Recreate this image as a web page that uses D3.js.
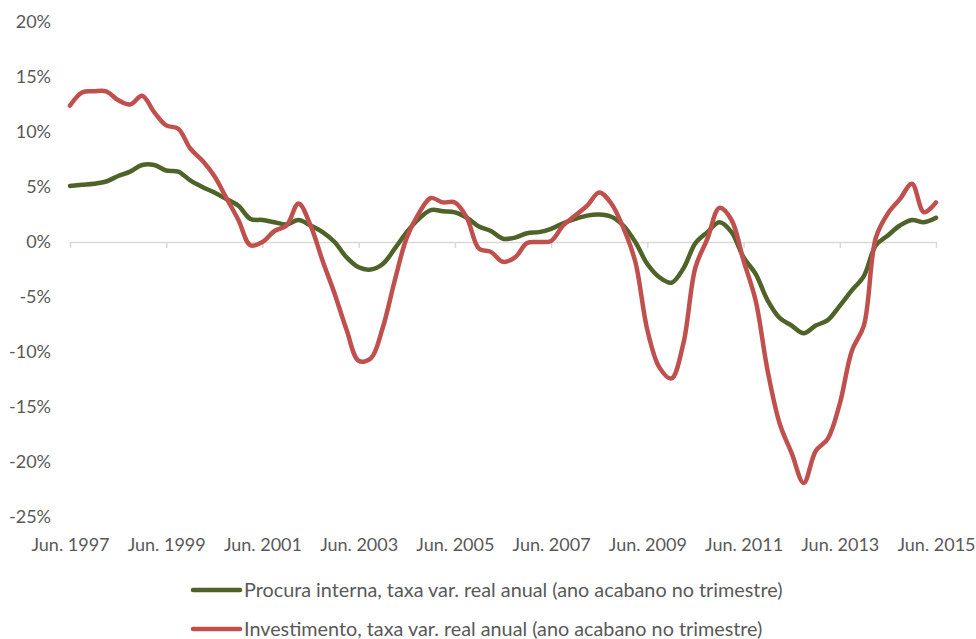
<!DOCTYPE html>
<html>
<head>
<meta charset="utf-8">
<script src="https://cdn.jsdelivr.net/npm/d3@7"></script>
<style>
  body { margin: 0; background: #fff; }
  svg text { font-family: Lato, "Open Sans", sans-serif; fill: #595959; }
</style>
</head>
<body>
<div id="chart"></div>
<script>
// Quarterly series, Jun. 1997 .. Jun. 2015 (73 quarters)
const quarterMonths = ['Jun.', 'Set.', 'Dez.', 'Mar.'];
const quarters = [];
for (let i = 0; i < 73; i++) {
    const m = quarterMonths[i % 4];
    const y = 1997 + Math.floor((i + 2) / 4);
    quarters.push(`${m} ${y}`);
}

const xTickLabels = ['Jun. 1997', 'Jun. 1999', 'Jun. 2001', 'Jun. 2003', 'Jun. 2005',
    'Jun. 2007', 'Jun. 2009', 'Jun. 2011', 'Jun. 2013', 'Jun. 2015'];
const yTicks = [-25, -20, -15, -10, -5, 0, 5, 10, 15, 20];

const seriesNames = [
    'Procura interna, taxa var. real anual (ano acabano no trimestre)',
    'Investimento, taxa var. real anual (ano acabano no trimestre)'
];

// Procura interna
const procura = [
    5.1, 5.2, 5.3, 5.5, 6.0, 6.4, 7.0, 7.0, 6.5, 6.4,
    5.6, 5.0, 4.5, 3.9, 3.3, 2.1, 2.0, 1.8, 1.6, 2.0,
    1.5, 0.9, 0.0, -1.4, -2.3, -2.5, -2.0, -0.6, 0.9, 2.1,
    2.9, 2.8, 2.7, 2.2, 1.4, 1.0, 0.3, 0.4, 0.8, 0.9,
    1.2, 1.7, 2.1, 2.4, 2.5, 2.3, 1.5, 0.0, -2.0, -3.2,
    -3.7, -2.4, -0.1, 0.9, 1.8, 0.9, -1.4, -2.9, -5.3, -6.9,
    -7.6, -8.3, -7.6, -7.1, -5.8, -4.4, -3.1, -0.3, 0.6, 1.5,
    2.0, 1.8, 2.2
];

// Investimento
const investimento = [
    12.4, 13.6, 13.7, 13.7, 12.9, 12.5, 13.3, 11.8, 10.6, 10.3,
    8.5, 7.4, 6.0, 4.0, 2.0, -0.3, 0.0, 1.0, 1.5, 3.5,
    1.5, -1.7, -4.7, -8.0, -10.8, -10.6, -7.8, -3.5, 0.4, 2.6,
    4.0, 3.6, 3.6, 2.2, -0.6, -0.9, -1.8, -1.4, -0.1, 0.0,
    0.1, 1.5, 2.4, 3.3, 4.5, 3.5, 1.3, -1.8, -8.0, -11.4,
    -12.4, -9.2, -2.3, 0.3, 3.1, 2.0, -1.7, -5.3, -11.7, -16.5,
    -19.2, -21.9, -19.0, -17.9, -14.7, -9.9, -7.6, 0.4, 2.6, 3.9,
    5.3, 2.7, 3.6
];

const colors = ['#4F6228', '#C0504D'];

function drawChart() {
    const width = 976;
    const height = 639;
    const plot = { left: 70, right: 936, top: 22, bottom: 517 };

    const svg = d3.select('#chart')
        .append('svg')
        .attr('width', width)
        .attr('height', height);

    const x = d3.scalePoint()
        .domain(quarters)
        .range([plot.left, plot.right]);

    const y = d3.scaleLinear()
        .domain([-25, 20])
        .range([plot.bottom, plot.top]);

    // Y axis labels (no line, no ticks)
    const yAxis = svg.append('g')
        .attr('transform', `translate(${plot.left - 19}, 0)`)
        .call(d3.axisLeft(y)
            .tickValues(yTicks)
            .tickSize(0)
            .tickPadding(0)
            .tickFormat(d => d + '%'));
    yAxis.select('.domain').remove();
    yAxis.selectAll('text')
        .style('font-size', '18px')
        .style('font-family', 'Lato, sans-serif')
        .attr('fill', '#595959');

    // Zero line with tick marks
    const zeroAxis = svg.append('g')
        .attr('transform', `translate(0, ${y(0)})`)
        .call(d3.axisBottom(x)
            .tickValues(xTickLabels)
            .tickSize(6)
            .tickSizeOuter(0)
            .tickFormat(''));
    zeroAxis.select('.domain').attr('stroke', '#D9D9D9').attr('stroke-width', 1.5);
    zeroAxis.selectAll('.tick line').attr('stroke', '#D9D9D9').attr('stroke-width', 1.5);

    // Category labels at the bottom
    const xAxis = svg.append('g')
        .attr('transform', `translate(0, ${plot.bottom + 21})`)
        .call(d3.axisBottom(x)
            .tickValues(xTickLabels)
            .tickSize(0)
            .tickPadding(0));
    xAxis.select('.domain').remove();
    xAxis.selectAll('text')
        .style('font-size', '18px')
        .style('font-family', 'Lato, sans-serif')
        .attr('fill', '#595959');

    // Lines
    const line = d3.line()
        .x((d, i) => x(quarters[i]))
        .y(d => y(d))
        .curve(d3.curveCatmullRom.alpha(0.5));

    [procura, investimento].forEach((values, k) => {
        svg.append('path')
            .datum(values)
            .attr('fill', 'none')
            .attr('stroke', colors[k])
            .attr('stroke-width', 4.5)
            .attr('stroke-linejoin', 'round')
            .attr('stroke-linecap', 'round')
            .attr('d', line);
    });

    // Legend
    const legend = svg.append('g')
        .attr('transform', 'translate(193, 590)');

    const entries = legend.selectAll('.legend-entry')
        .data(seriesNames)
        .enter()
        .append('g')
        .attr('class', 'legend-entry')
        .attr('transform', (d, i) => `translate(0, ${i * 39})`);

    entries.append('line')
        .attr('x1', 0)
        .attr('x2', 47)
        .attr('stroke', (d, i) => colors[i])
        .attr('stroke-width', 4.5)
        .attr('stroke-linecap', 'round');

    entries.append('text')
        .attr('x', 51)
        .attr('dy', '0.35em')
        .style('font-size', '19.8px')
        .text(d => d);
}

document.addEventListener('DOMContentLoaded', drawChart);
</script>
</body>
</html>
